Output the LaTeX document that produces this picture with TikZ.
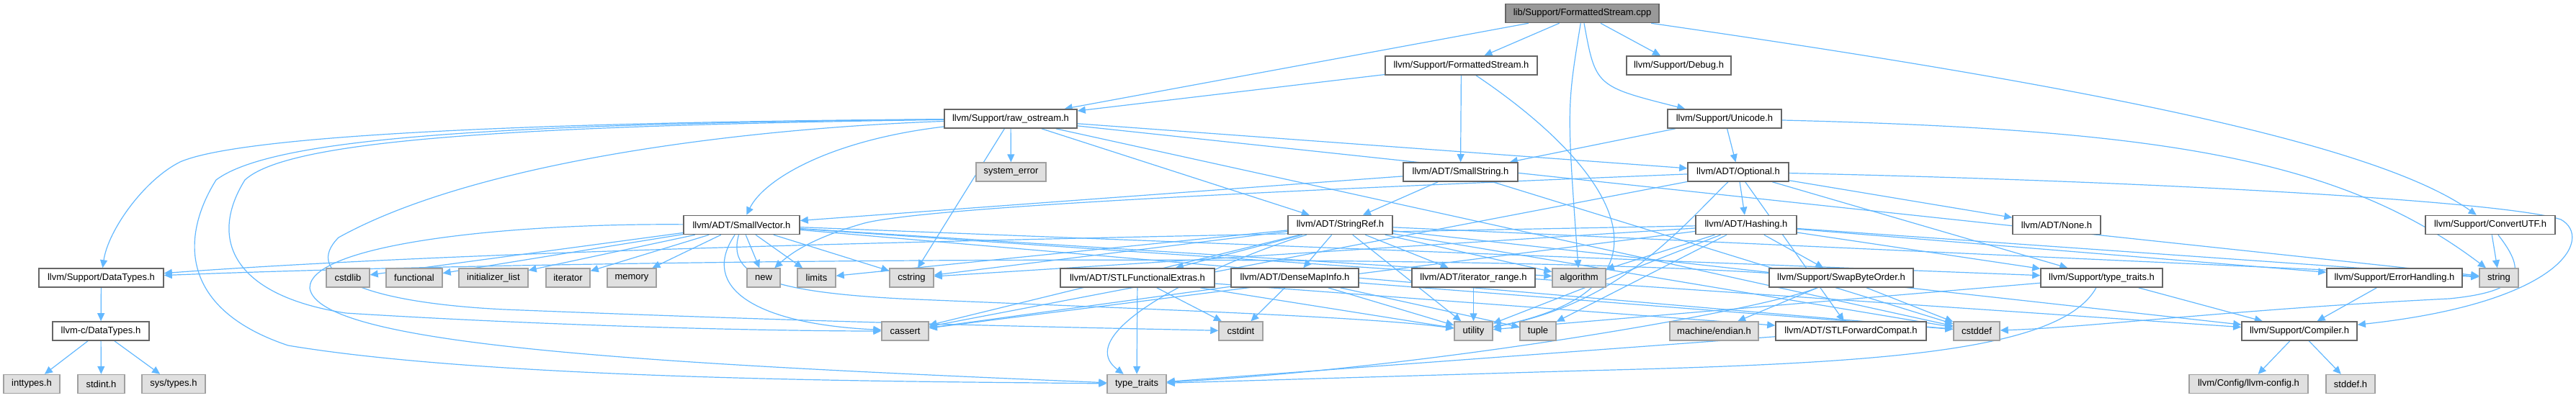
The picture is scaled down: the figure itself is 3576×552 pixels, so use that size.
\documentclass[tikz,border=0pt]{standalone}
\usepackage{fontspec}
\setmainfont{Liberation Sans}
\usepackage{xcolor}
\definecolor{edgeBlue}{HTML}{63B8FF}
\definecolor{boxBorder}{HTML}{666666}
\definecolor{sysFill}{HTML}{E0E0E0}
\definecolor{sysBorder}{HTML}{A0A0A0}
\definecolor{rootFill}{HTML}{999999}
\usepackage{tikz}
\usetikzlibrary{
    arrows.meta,
    backgrounds
}
\tikzset{
    % Base style for all file boxes
    file base/.style={
        font=\fontsize{6.5}{7.5}\selectfont,
        align=center,
        text=black,
        rectangle,
        inner sep=0pt,
        minimum height=13pt,
    },
    % Box width, given in pixels of the graph
    boxw/.style={minimum width=#1*0.5pt},
    % The source file itself
    root file/.style={
        file base,
        draw=boxBorder,
        line width=0.8pt,
        fill=rootFill,
    },
    % Project headers
    header/.style={
        file base,
        draw=boxBorder,
        line width=0.8pt,
        fill=white,
    },
    % System headers
    sys header/.style={
        file base,
        draw=sysBorder,
        line width=0.7pt,
        fill=sysFill,
    },
    % Include arrow
    incl/.style={
        -{Triangle[length=5.5pt, width=5pt]},
        line width=0.6pt,
        draw=edgeBlue,
    },
}

\begin{document}
\begin{tikzpicture}[x=0.5pt, y=-0.5pt]
    \useasboundingbox (0,0) rectangle (3576,552);

    \node (cpp) [root file, boxw=213] at (2196.5,18.5) {lib/Support/FormattedStream.cpp};

    \node (fsh) [header, boxw=211] at (2028.5,91) {llvm/Support/FormattedStream.h};
    \node (debug) [header, boxw=145] at (2330.5,91) {llvm/Support/Debug.h};

    \node (rawos) [header, boxw=184] at (1403,165) {llvm/Support/raw\_ostream.h};
    \node (unicode) [header, boxw=158] at (2394,165) {llvm/Support/Unicode.h};

    \node (syserr) [sys header, boxw=97] at (1403.5,239) {system\_error};
    \node (smallstr) [header, boxw=159] at (2027.5,239) {llvm/ADT/SmallString.h};
    \node (optional) [header, boxw=140] at (2413,239) {llvm/ADT/Optional.h};

    \node (smallvec) [header, boxw=161] at (1029.5,312.5) {llvm/ADT/SmallVector.h};
    \node (stringref) [header, boxw=145] at (1860.5,312.5) {llvm/ADT/StringRef.h};
    \node (hashing) [header, boxw=140] at (2424,312.5) {llvm/ADT/Hashing.h};
    \node (none) [header, boxw=122] at (2855,312.5) {llvm/ADT/None.h};
    \node (convutf) [header, boxw=180] at (3457,312.5) {llvm/Support/ConvertUTF.h};

    \node (datatypes) [header, boxw=173] at (140.5,386) {llvm/Support/DataTypes.h};
    \node (cstdlib) [sys header, boxw=60] at (483,386) {cstdlib};
    \node (functional) [sys header, boxw=78] at (575,386) {functional};
    \node (initlist) [sys header, boxw=96] at (685,386) {initializer\_list};
    \node (iterator) [sys header, boxw=61] at (788.5,386) {iterator};
    \node (memory) [sys header, boxw=68] at (877,386) {memory};
    \node (newhdr) [sys header, boxw=46] at (1060,386) {new};
    \node (limits) [sys header, boxw=53] at (1133.5,386) {limits};
    \node (cstring) [sys header, boxw=61] at (1265.5,386) {cstring};
    \node (stlfunc) [header, boxw=214] at (1579,386) {llvm/ADT/STLFunctionalExtras.h};
    \node (densemap) [header, boxw=177] at (1797.5,386) {llvm/ADT/DenseMapInfo.h};
    \node (itrange) [header, boxw=171] at (2045.5,386) {llvm/ADT/iterator\_range.h};
    \node (algorithm) [sys header, boxw=74] at (2192,386) {algorithm};
    \node (swapbyte) [header, boxw=200] at (2556,386) {llvm/Support/SwapByteOrder.h};
    \node (typetraitsh) [header, boxw=169] at (2917.5,386) {llvm/Support/type\_traits.h};
    \node (errhandling) [header, boxw=188] at (3324,386) {llvm/Support/ErrorHandling.h};
    \node (string) [sys header, boxw=54] at (3469,386) {string};

    \node (cdatatypes) [header, boxw=134] at (140,460) {llvm-c/DataTypes.h};
    \node (cassert) [sys header, boxw=65] at (1256.5,460) {cassert};
    \node (cstdint) [sys header, boxw=61] at (1722.5,460) {cstdint};
    \node (utility) [sys header, boxw=53] at (2045.5,460) {utility};
    \node (tuple) [sys header, boxw=50] at (2135,460) {tuple};
    \node (endian) [sys header, boxw=123] at (2379.5,460) {machine/endian.h};
    \node (stlfwd) [header, boxw=209] at (2569.5,460) {llvm/ADT/STLForwardCompat.h};
    \node (cstddef) [sys header, boxw=64] at (2744,460) {cstddef};
    \node (compiler) [header, boxw=160] at (3192,460) {llvm/Support/Compiler.h};

    \node (inttypes) [sys header, boxw=78] at (44,533.5) {inttypes.h};
    \node (stdint) [sys header, boxw=65] at (140.5,533.5) {stdint.h};
    \node (systypes) [sys header, boxw=88] at (241,533.5) {sys/types.h};
    \node (typetraits) [sys header, boxw=82] at (1578,533.5) {type\_traits};
    \node (llvmconfig) [sys header, boxw=165] at (3121.5,533.5) {llvm/Config/llvm-config.h};
    \node (stddef) [sys header, boxw=68] at (3263,533.5) {stddef.h};

    \begin{scope}[on background layer]
    \draw [incl] (cpp) -- (rawos);
    \draw [incl] (cpp) -- (fsh);
    \draw [incl] (cpp) -- (debug);
    \draw [incl] (cpp) .. controls (2215,120) .. (unicode);
    \draw [incl] (cpp) .. controls (2900,120) and (3300,200) .. (convutf);
    \draw [incl] (cpp) .. controls (2175,150) .. (algorithm);

    \draw [incl] (fsh) -- (rawos);
    \draw [incl] (fsh) -- (smallstr);
    \draw [incl] (fsh) .. controls (2250,240) and (2340,400) .. (utility);

    \draw [incl] (unicode) -- (smallstr);
    \draw [incl] (unicode) -- (optional);
    \draw [incl] (unicode) .. controls (3000,180) and (3250,220) .. (string);

    \draw [incl] (rawos) -- (optional);
    \draw [incl] (rawos) .. controls (1150,195) and (1060,250) .. (smallvec);
    \draw [incl] (rawos) -- (stringref);
    \draw [incl] (rawos) .. controls (700,170) and (330,190) .. (250,225)
        .. controls (200,250) and (150,320) .. (datatypes);
    \draw [incl] (rawos) -- (syserr);
    \draw [incl] (rawos) .. controls (700,175) and (400,195) .. (340,250)
        .. controls (290,330) and (320,410) .. (480,435)
        .. controls (800,455) and (1100,460) .. (cassert);
    \draw [incl] (rawos) -- (cstddef);
    \draw [incl] (rawos) .. controls (1000,180) and (650,230) .. (470,330)
        .. controls (420,380) and (500,420) .. (700,430)
        .. controls (1200,450) and (1500,455) .. (cstdint);
    \draw [incl] (rawos) -- (cstring);
    \draw [incl] (rawos) -- (string);
    \draw [incl] (rawos) .. controls (700,172) and (380,190) .. (300,250)
        .. controls (250,330) and (250,430) .. (400,480)
        .. controls (700,530) and (1300,530) .. (typetraits);

    \draw [incl] (smallstr) -- (smallvec);
    \draw [incl] (smallstr) -- (stringref);
    \draw [incl] (smallstr) -- (cstddef);

    \draw [incl] (optional) -- (hashing);
    \draw [incl] (optional) -- (none);
    \draw [incl] (optional) -- (stlfwd);
    \draw [incl] (optional) .. controls (3000,252) and (3480,280) .. (3555,305)
        .. controls (3600,330) and (3560,420) .. (compiler);
    \draw [incl] (optional) -- (typetraitsh);
    \draw [incl] (optional) -- (cassert);
    \draw [incl] (optional) .. controls (1900,260) and (1300,285) .. (1200,310)
        .. controls (1130,330) and (1100,350) .. (newhdr);
    \draw [incl] (optional) .. controls (2330,320) and (2250,420) .. (utility);

    \draw [incl] (smallvec) -- (compiler);
    \draw [incl] (smallvec) -- (typetraitsh);
    \draw [incl] (smallvec) -- (algorithm);
    \draw [incl] (smallvec) .. controls (970,400) and (1050,450) .. (cassert);
    \draw [incl] (smallvec) -- (cstddef);
    \draw [incl] (smallvec) -- (cstdlib);
    \draw [incl] (smallvec) -- (cstring);
    \draw [incl] (smallvec) -- (functional);
    \draw [incl] (smallvec) -- (initlist);
    \draw [incl] (smallvec) -- (iterator);
    \draw [incl] (smallvec) -- (limits);
    \draw [incl] (smallvec) -- (memory);
    \draw [incl] (smallvec) -- (newhdr);
    \draw [incl] (smallvec) .. controls (700,310) and (430,340) .. (430,400)
        .. controls (440,480) and (900,505) .. (typetraits);
    \draw [incl] (smallvec) .. controls (1010,380) and (1060,405) .. (1250,415)
        .. controls (1600,430) and (1900,440) .. (utility);

    \draw [incl] (stringref) -- (densemap);
    \draw [incl] (stringref) -- (stlfunc);
    \draw [incl] (stringref) -- (itrange);
    \draw [incl] (stringref) -- (compiler);
    \draw [incl] (stringref) -- (algorithm);
    \draw [incl] (stringref) -- (cassert);
    \draw [incl] (stringref) -- (cstddef);
    \draw [incl] (stringref) -- (cstring);
    \draw [incl] (stringref) -- (limits);
    \draw [incl] (stringref) -- (string);
    \draw [incl] (stringref) .. controls (1700,360) and (1480,460) .. (typetraits);
    \draw [incl] (stringref) -- (utility);

    \draw [incl] (hashing) -- (errhandling);
    \draw [incl] (hashing) -- (swapbyte);
    \draw [incl] (hashing) -- (typetraitsh);
    \draw [incl] (hashing) -- (algorithm);
    \draw [incl] (hashing) -- (cassert);
    \draw [incl] (hashing) -- (cstring);
    \draw [incl] (hashing) -- (string);
    \draw [incl] (hashing) -- (tuple);
    \draw [incl] (hashing) -- (utility);
    \draw [incl] (hashing) .. controls (1500,330) and (700,345) .. (datatypes);

    \draw [incl] (swapbyte) .. controls (2000,350) and (800,360) .. (datatypes);
    \draw [incl] (swapbyte) .. controls (2450,430) and (2000,510) .. (typetraits);
    \draw [incl] (swapbyte) -- (endian);
    \draw [incl] (swapbyte) -- (cstddef);

    \draw [incl] (convutf) -- (string);
    \draw [incl] (convutf) .. controls (3510,380) and (3500,405) .. (3400,415)
        .. controls (3100,430) and (2900,455) .. (cstddef);

    \draw [incl] (stlfunc) -- (stlfwd);
    \draw [incl] (stlfunc) -- (cstdint);
    \draw [incl] (stlfunc) -- (typetraits);
    \draw [incl] (stlfunc) -- (utility);

    \draw [incl] (densemap) -- (cassert);
    \draw [incl] (densemap) -- (cstddef);
    \draw [incl] (densemap) -- (cstdint);
    \draw [incl] (densemap) -- (tuple);
    \draw [incl] (densemap) -- (utility);

    \draw [incl] (itrange) -- (utility);

    \draw [incl] (typetraitsh) -- (compiler);
    \draw [incl] (typetraitsh) .. controls (2860,490) and (2600,505) .. (2200,515)
        -- (typetraits);
    \draw [incl] (typetraitsh) -- (utility);

    \draw [incl] (errhandling) -- (compiler);
    \draw [incl] (stlfwd) -- (typetraits);

    \draw [incl] (compiler) -- (llvmconfig);
    \draw [incl] (compiler) -- (stddef);

    \draw [incl] (datatypes) -- (cdatatypes);
    \draw [incl] (cdatatypes) -- (inttypes);
    \draw [incl] (cdatatypes) -- (stdint);
    \draw [incl] (cdatatypes) -- (systypes);
    \end{scope}
\end{tikzpicture}
\end{document}
